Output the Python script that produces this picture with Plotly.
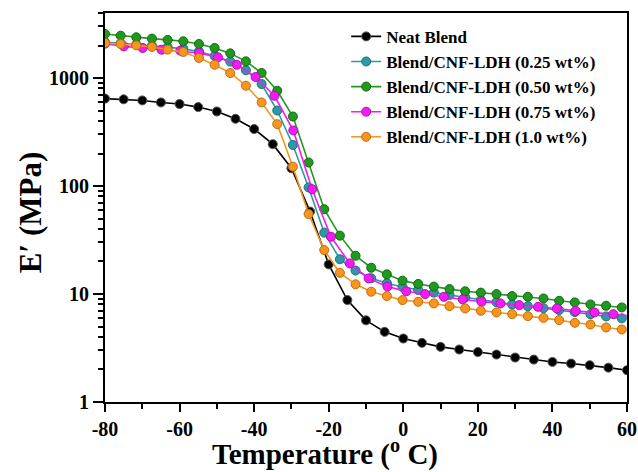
import plotly.graph_objects as go

# ---- data ----
T_neat = [-80, -75, -70, -65, -60, -55, -50, -45, -40, -35, -30, -25, -20, -15, -10,
          -5, 0, 5, 10, 15, 20, 25, 30, 35, 40, 45, 50, 55, 60]
E_neat = [645, 635, 620, 594, 574, 538, 490, 419, 337, 244, 146, 58, 18.8, 8.8, 5.7,
          4.46, 3.87, 3.53, 3.24, 3.06, 2.9, 2.75, 2.58, 2.47, 2.35, 2.27, 2.19, 2.08, 1.97]

T_fine = [-80.0, -75.8, -71.6, -67.4, -63.2, -59.0, -54.8, -50.6, -46.4, -42.2, -38.0,
          -33.8, -29.6, -25.4, -21.2, -17.0, -12.8, -8.6, -4.4, -0.2, 4.0, 8.2, 12.4,
          16.6, 20.8, 25.0, 29.2, 33.4, 37.6, 41.8, 46.0, 50.2, 54.4, 58.6]

E_025 = [2150, 2100, 2050, 1990, 1930, 1860, 1760, 1600, 1420, 1180, 880,
         500, 240, 97, 37, 21, 16.5, 14, 12.6, 11.6, 10.9, 10.3, 9.8,
         9.3, 8.8, 8.4, 8.0, 7.7, 7.4, 7.1, 6.8, 6.5, 6.2, 5.95]

E_050 = [2560, 2467, 2381, 2316, 2253, 2188, 2067, 1897, 1691, 1426, 1113,
         762, 440, 165, 61, 34.7, 22.6, 17.5, 15.2, 13.3, 12.4, 11.7, 11.1,
         10.6, 10.3, 9.98, 9.57, 9.42, 9.1, 8.65, 8.36, 8.01, 7.78, 7.51]

T_075 = [-80.0, -74.95, -69.9, -64.85, -59.8, -54.75, -49.7, -44.65, -39.6, -34.55,
         -29.5, -24.45, -19.4, -14.35, -9.3, -4.25, 0.8, 5.85, 10.9, 15.95, 21.0,
         26.05, 31.1, 36.15, 41.2, 46.25, 51.3, 56.35, 61.4]
E_075 = [2080, 1963, 1897, 1829, 1791, 1706, 1553, 1327, 1021, 685,
         327, 93.4, 33.9, 19.2, 13.95, 11.7, 10.6, 9.98, 9.42, 8.91, 8.47,
         8.18, 7.89, 7.61, 7.35, 6.98, 6.75, 6.51, 6.24]

E_100 = [2113, 2067, 2005, 1939, 1832, 1743, 1533, 1327, 1113, 849, 594,
         374, 151, 55, 25.5, 15.7, 12.3, 10.5, 9.57, 8.78, 8.47, 8.18, 7.72,
         7.35, 6.98, 6.75, 6.51, 6.24, 6.01, 5.73, 5.41, 5.22, 4.90, 4.69]

series = [
    ("Neat Blend", T_neat, E_neat, "#000000", "#555555"),
    ("Blend/CNF-LDH (0.25 wt%)", T_fine, E_025, "#2b9aa6", "#1d6f78"),
    ("Blend/CNF-LDH (0.50 wt%)", T_fine, E_050, "#1f9a1f", "#126812"),
    ("Blend/CNF-LDH (0.75 wt%)", T_075, E_075, "#f21cf2", "#b010b0"),
    ("Blend/CNF-LDH (1.0 wt%)", T_fine, E_100, "#f7961e", "#c06c0c"),
]

x_ticks = [-80, -60, -40, -20, 0, 20, 40, 60]
y_ticks = [1, 10, 100, 1000]
x_title = "Temperature (<sup>o</sup> C)"
y_title = "E′ (MPa)"

fig = go.Figure()
for name, xs, ys, col, edge in series:
    fig.add_trace(go.Scatter(
        x=xs, y=ys, name=name, mode="lines+markers",
        line=dict(color=col, width=1.6),
        marker=dict(symbol="circle", size=9, color=col, line=dict(color=edge, width=1)),
    ))

font_family = "Liberation Serif, Times New Roman, serif"

fig.update_layout(
    width=638, height=472,
    margin=dict(l=105, r=11, t=13, b=70, autoexpand=False),
    paper_bgcolor="white", plot_bgcolor="white",
    font=dict(family=font_family, color="black", size=18, weight="bold"),
    showlegend=True,
    legend=dict(
        x=0.462, y=0.985, xanchor="left", yanchor="top",
        bgcolor="rgba(0,0,0,0)", borderwidth=0,
        font=dict(family=font_family, size=17, color="black", weight="bold"),
        tracegroupgap=0, itemwidth=30,
    ),
    annotations=[
        dict(text=x_title, xref="paper", yref="paper", x=0.4215, y=-0.131,
             xanchor="center", yanchor="middle", showarrow=False,
             font=dict(size=29, family=font_family, weight="bold", color="black")),
        dict(text=y_title, xref="paper", yref="paper", x=-0.1437, y=0.488,
             xanchor="center", yanchor="middle", showarrow=False, textangle=-90,
             font=dict(size=31, family=font_family, weight="bold", color="black")),
    ],
)

fig.update_xaxes(
    range=[-80, 60], tickvals=x_ticks, ticktext=[str(v) for v in x_ticks],
    ticks="outside", ticklen=8, tickwidth=2, tickcolor="black",
    minor=dict(ticks="outside", ticklen=5, tickwidth=2, tickcolor="black", dtick=10, showgrid=False),
    showline=True, linewidth=2, linecolor="black", mirror=True,
    showgrid=False, zeroline=False, automargin=False,
    tickfont=dict(size=20, family=font_family, weight="bold"),
)

fig.update_yaxes(
    type="log", range=[0, 3.602],
    tickvals=y_ticks, ticktext=[str(v) for v in y_ticks],
    ticks="outside", ticklen=10, tickwidth=2, tickcolor="black",
    minor=dict(ticks="outside", ticklen=5, tickwidth=1.5, tickcolor="black", dtick="D1", showgrid=False),
    showline=True, linewidth=2, linecolor="black", mirror=True,
    showgrid=False, zeroline=False, automargin=False,
    tickfont=dict(size=20, family=font_family, weight="bold"),
)

fig.write_html(
    "out.html",
    config={"displayModeBar": False},
    post_script="document.body.style.margin='0';document.body.style.padding='0';document.body.style.overflow='hidden';",
)
